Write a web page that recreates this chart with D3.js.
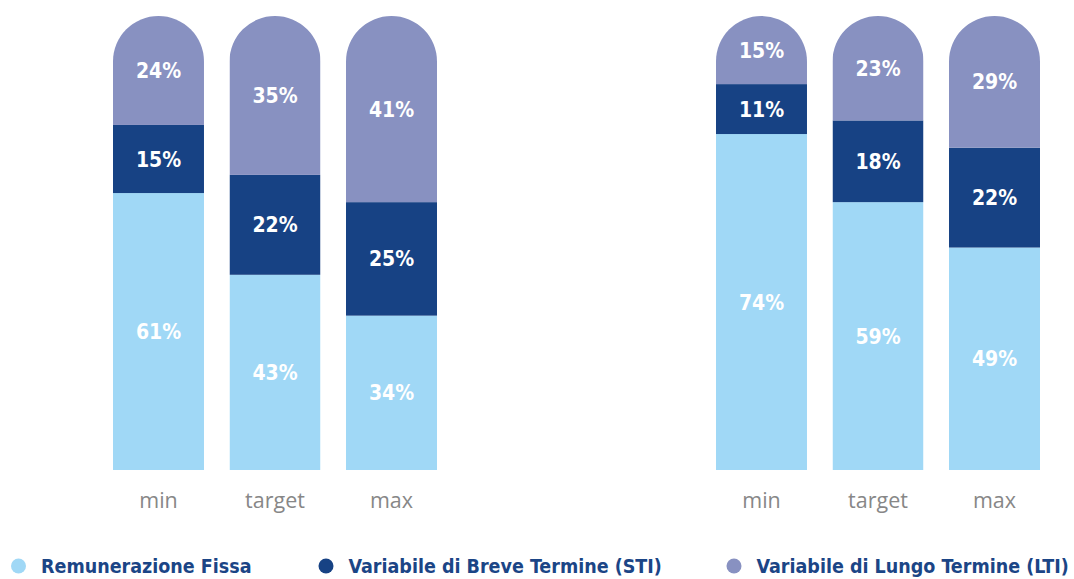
<!DOCTYPE html>
<html>
<head>
<meta charset="utf-8">
<script src="https://cdn.jsdelivr.net/npm/d3@7"></script>
<style>
  html, body { margin: 0; padding: 0; background: #fff; }
  svg { display: block; }
  .cat text { font-family: "Open Sans", sans-serif; font-size: 21.5px; fill: #878787; }
  .pct { font-family: "DejaVu Sans Condensed", "DejaVu Sans", sans-serif; font-weight: bold; font-size: 21px; fill: #fff; }
  .leg { font-family: "DejaVu Sans Condensed", "DejaVu Sans", sans-serif; font-weight: bold; font-size: 19.5px; fill: #1b4586; }
</style>
</head>
<body>
<svg id="chart"></svg>
<script>
// ── Data ─────────────────────────────────────────────────────────────────────
const categories  = ["min", "target", "max"];
const panels      = ["left", "right"];
const seriesKeys  = ["fissa", "sti", "lti"];
const seriesNames = ["Remunerazione Fissa", "Variabile di Breve Termine (STI)", "Variabile di Lungo Termine (LTI)"];
const seriesColors = ["#a0d8f6", "#174284", "#8891c1"];

const leftFissa  = [61, 43, 34];
const leftSti    = [15, 22, 25];
const leftLti    = [24, 35, 41];
const rightFissa = [74, 59, 49];
const rightSti   = [11, 18, 22];
const rightLti   = [15, 23, 29];

const panelRows = {
  left:  categories.map((c, i) => ({ cat: c, fissa: leftFissa[i],  sti: leftSti[i],  lti: leftLti[i] })),
  right: categories.map((c, i) => ({ cat: c, fissa: rightFissa[i], sti: rightSti[i], lti: rightLti[i] }))
};

// ── Layout ───────────────────────────────────────────────────────────────────
const W = 1074, H = 579;
const svg = d3.select("#chart").attr("width", W).attr("height", H);
const defs = svg.append("defs");

const xPanel = d3.scaleBand().domain(panels).range([113, 1040]).paddingInner(0.4627).paddingOuter(0);
const xCat   = d3.scaleBand().domain(categories).range([0, xPanel.bandwidth()]).paddingInner(0.219).paddingOuter(0);
const y      = d3.scaleLinear().domain([0, 100]).range([470, 16]);

const stack = d3.stack().keys(seriesKeys);

// ── Bars ─────────────────────────────────────────────────────────────────────
panels.forEach(p => {
  const g = svg.append("g").attr("transform", `translate(${xPanel(p)},0)`);
  const layers = stack(panelRows[p]);
  const bw = xCat.bandwidth(), r = bw / 2;

  // rounded-top clip per bar
  categories.forEach(c => {
    const x0 = xCat(c);
    const path = d3.path();
    path.moveTo(x0, y(0));
    path.lineTo(x0, y(100) + r);
    path.arc(x0 + r, y(100) + r, r, Math.PI, 0);
    path.lineTo(x0 + bw, y(0));
    path.closePath();
    defs.append("clipPath").attr("id", `clip-${p}-${c}`)
      .append("path").attr("d", path.toString());
  });

  layers.forEach((layer, li) => {
    const lg = g.append("g").attr("fill", seriesColors[li]);
    lg.selectAll("rect")
      .data(layer)
      .join("rect")
      .attr("clip-path", d => `url(#clip-${p}-${d.data.cat})`)
      .attr("x", d => xCat(d.data.cat))
      .attr("width", bw)
      .attr("y", d => y(d[1]))
      .attr("height", d => y(d[0]) - y(d[1]));

    g.selectAll(null)
      .data(layer)
      .join("text")
      .attr("class", "pct")
      .attr("x", d => xCat(d.data.cat) + bw / 2)
      .attr("y", d => (y(d[0]) + y(d[1])) / 2)
      .attr("dy", "0.36em")
      .attr("text-anchor", "middle")
      .text(d => `${d[1] - d[0]}%`);
  });

  // category axis
  g.append("g")
    .attr("class", "cat")
    .attr("transform", `translate(0,${y(0)})`)
    .call(d3.axisBottom(xCat).tickSize(0).tickPadding(23))
    .call(a => a.select(".domain").remove())
    .selectAll("text").attr("font-family", null).attr("font-size", null);
});

// ── Legend ───────────────────────────────────────────────────────────────────
const legX = d3.scaleOrdinal().domain(seriesKeys).range([18.5, 326, 734]);
const leg = svg.append("g").attr("transform", "translate(0,566)");
seriesKeys.forEach((k, i) => {
  leg.append("circle").attr("cx", legX(k)).attr("cy", 0).attr("r", 7.5).attr("fill", seriesColors[i]);
  leg.append("text").attr("class", "leg")
    .attr("x", legX(k) + 22.5).attr("y", 0).attr("dy", "0.36em")
    .text(seriesNames[i]);
});
</script>
</body>
</html>
